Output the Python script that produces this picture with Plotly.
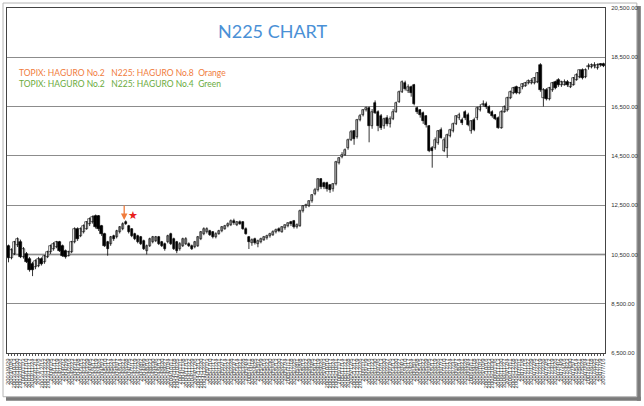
import plotly.graph_objects as go
import pandas as pd

# weekly candles, N225, 2003/9/29 - 2007/7/16
opens = [10850,10350,10520,10900,11000,10400,10520,10320,10120,9980,
         10050,10320,10180,10380,10590,10720,10790,10990,10850,10650,
         10450,10590,10990,11530,11260,11400,11530,11730,11800,12060,
         12060,11660,11330,10990,10920,11260,11190,11400,11530,11800,
         11660,11530,11330,11260,11190,11060,10650,10850,10990,11060,
         11190,10990,10920,10990,11330,11130,10990,10720,10850,10920,
         10920,10850,10790,10850,11130,11330,11400,11460,11400,11200,
         11330,11450,11550,11660,11700,11860,11700,11830,11800,11550,
         11190,10950,11120,10920,11000,11100,11150,11230,11300,11400,
         11550,11430,11560,11650,11800,11860,11600,11660,12270,12450,
         12480,12650,12950,13100,13550,13400,13400,13300,13150,13350,
         14200,14450,14550,14800,15150,15500,15250,15950,16150,16350,
         16450,15700,16650,16300,16100,15700,16050,15800,16000,16300,
         16700,17100,17450,17150,17300,17380,16450,16370,16240,16100,
         15700,14800,14820,15030,15560,14690,14800,15300,15500,15800,
         16030,15970,16300,16170,15500,15970,16030,16370,16570,16600,
         16500,16300,16150,16035,15630,16300,16370,16840,17050,17310,
         17040,17300,17350,17450,17450,17450,17500,18190,16840,17180,
         16800,17180,17510,17580,17380,17380,17510,17310,17380,17580,
         17700,17980,17720,18100,18100,18130,18050,18220,18230]
highs = [10900,10750,11050,11190,11100,10800,10600,10400,10200,10300,
         10400,10380,10480,10650,10900,11000,11050,11050,10900,10700,
         10650,11050,11600,11600,11600,11720,11850,12000,12080,12120,
         12100,11700,11380,11050,11250,11300,11500,11650,11800,11880,
         11700,11560,11380,11300,11250,11100,10900,11180,11250,11250,
         11250,11050,10980,11300,11380,11180,11050,11000,11180,11200,
         10990,10900,11050,11250,11450,11600,11600,11500,11450,11400,
         11500,11650,11700,11800,11920,11950,11850,11880,11850,11600,
         11250,11150,11180,11100,11180,11250,11300,11380,11480,11550,
         11600,11650,11720,11800,11860,11900,11760,12320,12500,12560,
         12700,12950,13200,13600,13600,13450,13450,13350,13400,14300,
         14450,14650,14800,15200,15550,15550,16000,16200,16400,16500,
         16500,16400,16750,16350,16200,16050,16150,16100,16400,16700,
         17150,17560,17550,17400,17350,17420,16500,16400,16300,16150,
         15750,14900,15250,15550,15650,15250,15400,15600,15850,16150,
         16250,16050,16350,16250,15950,16050,16500,16600,16750,16700,
         16550,16350,16200,16100,16350,16550,16900,17150,17300,17350,
         17300,17450,17500,17600,17650,17700,17900,18260,17250,17250,
         17300,17500,17550,17650,17550,17600,17580,17500,17700,17850,
         18000,18050,18050,18250,18250,18300,18250,18260,18280]
lows = [10180,10300,10480,10800,10350,10330,10150,9800,9620,9900,
        9980,10050,10120,10350,10520,10650,10750,10600,10400,10330,
        10420,10550,10950,11050,11200,11350,11500,11650,11750,11550,
        11450,11250,10800,10450,10850,11050,11150,11350,11480,11700,
        11350,11200,11080,10950,10880,10680,10500,10800,10950,11000,
        10880,10800,10650,10950,10880,10680,10550,10650,10800,10880,
        10800,10680,10750,10800,11080,11280,11350,11250,11150,11150,
        11300,11400,11500,11600,11650,11700,11650,11700,11500,11300,
        10720,10850,10900,10790,10950,11050,11100,11180,11250,11350,
        11400,11380,11500,11600,11650,11550,11550,11620,12200,12380,
        12420,12600,12900,13050,13150,13150,13050,13000,13050,13300,
        14150,14400,14500,14750,15100,14950,15200,15900,16100,16300,
        15050,15600,16200,15500,15550,15600,15700,15650,15950,16250,
        16650,17050,17150,17050,16900,16550,16200,16050,15800,15650,
        14650,14020,14750,14950,15200,14650,14420,15250,15450,15750,
        15950,15750,15950,15700,15400,15500,15950,16300,16500,16400,
        16200,16050,15950,15600,15600,16250,16300,16800,17000,17000,
        17000,17200,17300,17400,17400,17400,17450,17100,16500,16750,
        16750,17100,17200,17300,17300,17350,17300,17250,17350,17550,
        17650,17600,17650,18000,18050,18050,18000,18120,18100]
closes = [10350,10700,10990,11130,10400,10720,10190,9850,9850,10250,
          10320,10120,10450,10590,10850,10920,10990,10650,10450,10380,
          10590,10990,11530,11130,11530,11660,11800,11930,12000,11600,
          11530,11330,10860,10720,11190,11130,11460,11600,11730,11730,
          11400,11260,11130,10990,10920,10720,10850,11130,11190,11190,
          10920,10860,10720,11260,10920,10720,10650,10920,11130,11130,
          10850,10720,10990,11190,11400,11530,11530,11300,11190,11330,
          11450,11600,11660,11750,11860,11760,11800,11750,11550,11330,
          11000,11100,10950,11050,11130,11200,11260,11330,11420,11500,
          11450,11600,11680,11760,11720,11600,11700,12270,12450,12520,
          12650,12900,13100,13550,13220,13250,13150,13100,13350,14250,
          14400,14550,14750,15130,15450,15200,15950,16100,16350,16450,
          15700,16300,16250,15700,15650,16000,15800,16000,16300,16650,
          17100,17500,17200,17300,17050,16600,16300,16170,15900,15760,
          14700,14700,15160,15500,15230,15160,15360,15560,15800,16100,
          16170,15830,16035,15770,15900,15560,16440,16500,16620,16500,
          16240,16100,16000,15630,16300,16500,16840,17100,17250,17040,
          17250,17400,17450,17550,17550,17650,17850,17180,17180,16800,
          17250,17450,17250,17380,17500,17510,17380,17450,17650,17780,
          17980,17650,17980,18140,18180,18180,18180,18170,18150]

dates = [f"{d.year}/{d.month}/{d.day}" for d in pd.date_range("2003-09-29", periods=len(closes), freq="7D")]
y_ticks = [6500, 8500, 10500, 12500, 14500, 16500, 18500, 20500]

# wick segments
wx, wy = [], []
for d, lo, hi in zip(dates, lows, highs):
    wx += [d, d, None]
    wy += [lo, hi, None]

body_base = [min(o, c) for o, c in zip(opens, closes)]
body_h = [max(abs(c - o), 12) for o, c in zip(opens, closes)]
body_col = ["#ffffff" if c >= o else "#000000" for o, c in zip(opens, closes)]

fig = go.Figure()
fig.add_trace(go.Scatter(x=wx, y=wy, mode="lines", line=dict(color="#000000", width=0.8),
                         showlegend=False, hoverinfo="skip", connectgaps=False))
fig.add_trace(go.Bar(x=dates, y=body_h, base=body_base, width=0.78,
                     marker=dict(color=body_col, line=dict(color="#000000", width=0.6)),
                     showlegend=False, hoverinfo="skip"))

W, H = 644, 406
L, R, T, B = 5, 38, 6, 53
pw, ph = W - L - R, H - T - B
def px(x): return (x - L) / pw
def py(y): return (H - B - y) / ph

shapes = [
    dict(type="rect", xref="paper", yref="paper", x0=px(638), x1=px(642), y0=py(401), y1=py(4),
         fillcolor="#7a7a7a", line=dict(width=0), layer="below"),
    dict(type="rect", xref="paper", yref="paper", x0=px(4), x1=px(642), y0=py(401), y1=py(397),
         fillcolor="#7a7a7a", line=dict(width=0), layer="below"),
    dict(type="rect", xref="paper", yref="paper", x0=px(1), x1=px(638), y0=py(397), y1=py(1),
         fillcolor="rgba(0,0,0,0)", line=dict(color="#b5b5b5", width=1), layer="below"),
    dict(type="line", xref="paper", yref="y", x0=0, x1=1, y0=10500, y1=10500,
         line=dict(color="#b0b0b0", width=2), layer="below"),
]

fig.update_layout(
    width=W, height=H, margin=dict(l=L, r=R, t=T, b=B),
    paper_bgcolor="white", plot_bgcolor="white", bargap=0,
    shapes=shapes,
    xaxis=dict(type="category", range=[-0.5, len(closes) - 0.5],
               tickmode="array", tickvals=dates, ticktext=dates,
               tickangle=-90, tickfont=dict(family="Liberation Sans", size=6, color="#444"),
               ticks="outside", ticklen=2, tickcolor="#555", tickwidth=1,
               showgrid=False, showline=True, linecolor="#444", linewidth=1, mirror=True,
               zeroline=False),
    yaxis=dict(side="right", range=[6500, 20500], tickmode="array", tickvals=y_ticks,
               ticktext=[f"{v:,.2f}" for v in y_ticks], ticks="", ticklabelstandoff=4,
               tickfont=dict(family="Liberation Sans", size=6, color="#333"),
               showgrid=True, gridcolor="#8c8c8c", gridwidth=1,
               showline=True, linecolor="#444", linewidth=1, mirror=True, zeroline=False),
    annotations=[
        dict(text="N225 CHART", xref="paper", yref="paper", x=px(272), y=py(29),
             xanchor="center", yanchor="middle", showarrow=False,
             font=dict(family="Lato", size=18, color="#4a90d6")),
        dict(text="TOPIX: HAGURO No.2\u00a0\u00a0\u00a0N225: HAGURO No.8\u00a0\u00a0Orange",
             xref="paper", yref="paper", x=px(15), y=py(71), xanchor="left", yanchor="middle",
             showarrow=False, font=dict(family="Lato", size=8.5, color="#f07c3c")),
        dict(text="TOPIX: HAGURO No.2\u00a0\u00a0\u00a0N225: HAGURO No.4\u00a0\u00a0Green",
             xref="paper", yref="paper", x=px(15), y=py(82), xanchor="left", yanchor="middle",
             showarrow=False, font=dict(family="Lato", size=8.5, color="#6aab3c")),
        dict(text="", x=38.5, y=11900, xref="x", yref="y", showarrow=True, ax=0, ay=-16,
             arrowhead=2, arrowsize=1, arrowwidth=1.3, arrowcolor="#f07c3c"),
        dict(text="\u2605", x=41.5, y=12110, xref="x", yref="y", showarrow=False,
             font=dict(size=11, color="#e8201c")),
    ],
)

fig.write_html("out.html")
